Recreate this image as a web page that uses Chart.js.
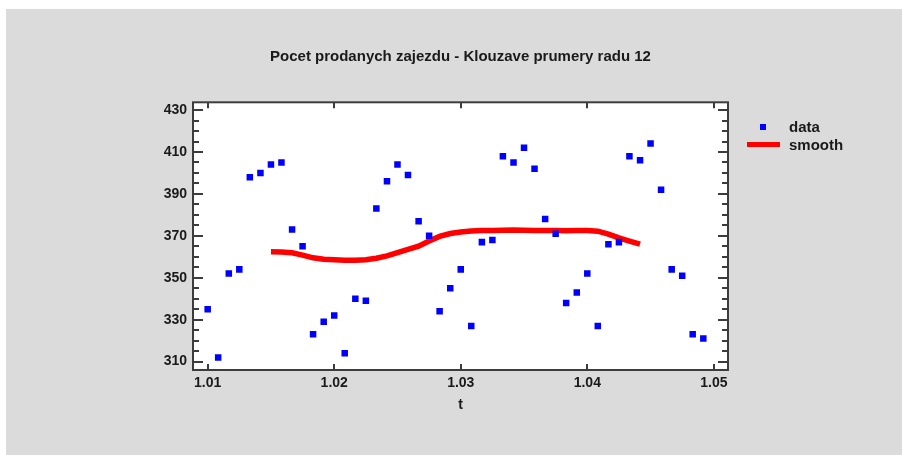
<!DOCTYPE html>
<html>
<head>
<meta charset="utf-8">
<script src="https://cdn.jsdelivr.net/npm/chart.js@4.4.0/dist/chart.umd.min.js"></script>
<style>
  html, body { margin: 0; padding: 0; background: #fff; }
  #panel { position: absolute; left: 6px; top: 9px; width: 896px; height: 446px; background: #dbdbdb; }
  canvas { display: block; }
</style>
</head>
<body>
<div id="panel"><canvas id="chart" width="896" height="446"></canvas></div>
<script>
// observations (t = year.month style index)
const tValues = [
  1.01000, 1.01083, 1.01167, 1.01250, 1.01333, 1.01417, 1.01500, 1.01583, 1.01667, 1.01750, 1.01833, 1.01917,
  1.02000, 1.02083, 1.02167, 1.02250, 1.02333, 1.02417, 1.02500, 1.02583, 1.02667, 1.02750, 1.02833, 1.02917,
  1.03000, 1.03083, 1.03167, 1.03250, 1.03333, 1.03417, 1.03500, 1.03583, 1.03667, 1.03750, 1.03833, 1.03917,
  1.04000, 1.04083, 1.04167, 1.04250, 1.04333, 1.04417, 1.04500, 1.04583, 1.04667, 1.04750, 1.04833, 1.04917
];
const dataValues = [
  335, 312, 352, 354, 398, 400, 404, 405, 373, 365, 323, 329,
  332, 314, 340, 339, 383, 396, 404, 399, 377, 370, 334, 345,
  354, 327, 367, 368, 408, 405, 412, 402, 378, 371, 338, 343,
  352, 327, 366, 367, 408, 406, 414, 392, 354, 351, 323, 321
];
// smoothed curve (moving average of order 12)
const smoothT = [
  1.01500, 1.01583, 1.01667, 1.01750, 1.01833, 1.01917,
  1.02000, 1.02083, 1.02167, 1.02250, 1.02333, 1.02417, 1.02500, 1.02583, 1.02667, 1.02750, 1.02833, 1.02917,
  1.03000, 1.03083, 1.03167, 1.03250, 1.03333, 1.03417, 1.03500, 1.03583, 1.03667, 1.03750, 1.03833, 1.03917,
  1.04000, 1.04083, 1.04167, 1.04250, 1.04333, 1.04417
];
const smoothValues = [
  362.4, 362.3, 361.9, 360.8, 359.5, 358.8,
  358.6, 358.3, 358.3, 358.6, 359.3, 360.4, 362.0, 363.5, 365.1, 367.5, 369.7, 371.1,
  371.8, 372.3, 372.5, 372.5, 372.7, 372.8, 372.7, 372.6, 372.5, 372.5, 372.4, 372.5,
  372.6, 372.2, 370.8, 369.0, 367.5, 366.0
];
const xTicks = [1.01, 1.02, 1.03, 1.04, 1.05];
const yTicks = [310, 330, 350, 370, 390, 410, 430];
const yMinorStep = 5;

const textColor = "#1a1a1a";
const axisColor = "#3c3c3c";
const fontFamily = "'Liberation Sans', Arial, sans-serif";

const frame = {
  id: "frame",
  beforeDraw(chart) {
    const { ctx, chartArea: a } = chart;
    ctx.save();
    ctx.fillStyle = "#ffffff";
    ctx.fillRect(a.left, a.top, a.right - a.left, a.bottom - a.top);
    ctx.restore();
  },
  afterDraw(chart) {
    const { ctx, chartArea: a } = chart;
    const xs = chart.scales.x;
    const ys = chart.scales.y;
    ctx.save();
    ctx.strokeStyle = axisColor;
    ctx.lineWidth = 2;
    ctx.strokeRect(a.left, a.top, a.right - a.left, a.bottom - a.top);

    ctx.beginPath();
    // y ticks, pointing inward on both sides
    for (let v = Math.ceil(ys.min / yMinorStep) * yMinorStep; v <= ys.max; v += yMinorStep) {
      const y = Math.round(ys.getPixelForValue(v));
      const len = yTicks.includes(v) ? 10 : 6;
      ctx.moveTo(a.left, y); ctx.lineTo(a.left + len, y);
      ctx.moveTo(a.right, y); ctx.lineTo(a.right - len, y);
    }
    // x ticks, top and bottom
    xTicks.forEach((v) => {
      const x = Math.round(xs.getPixelForValue(v));
      ctx.moveTo(x, a.bottom); ctx.lineTo(x, a.bottom - 6);
      ctx.moveTo(x, a.top); ctx.lineTo(x, a.top + 6);
    });
    ctx.stroke();

    // legend
    const ds = chart.data.datasets;
    ctx.font = "bold 15px " + fontFamily;
    ctx.fillStyle = textColor;
    ctx.textBaseline = "middle";
    ctx.fillText(ds[0].label, 783, 118.5);
    ctx.fillText(ds[1].label, 783, 136.5);
    ctx.fillStyle = ds[0].backgroundColor;
    ctx.fillRect(754, 115, 6, 6);
    ctx.strokeStyle = ds[1].borderColor;
    ctx.lineWidth = 5;
    ctx.beginPath();
    ctx.moveTo(741, 135.5); ctx.lineTo(774, 135.5);
    ctx.stroke();
    ctx.restore();
  }
};

new Chart(document.getElementById("chart"), {
  type: "scatter",
  data: {
    datasets: [
      {
        label: "data",
        data: tValues.map((t, i) => ({ x: t, y: dataValues[i] })),
        backgroundColor: "#0000ff",
        borderColor: "#0000ff",
        pointStyle: "rect",
        pointRadius: 4.6,
        pointBorderWidth: 0,
        showLine: false,
      },
      {
        type: "line",
        label: "smooth",
        data: smoothT.map((t, i) => ({ x: t, y: smoothValues[i] })),
        borderColor: "#ff0000",
        backgroundColor: "#ff0000",
        borderWidth: 5.5,
        pointRadius: 0,
        tension: 0,
        fill: false,
      },
    ],
  },
  options: {
    responsive: false,
    animation: false,
    events: [],
    layout: { padding: { left: 127, right: 174, top: 0, bottom: 35 } },
    plugins: {
      legend: { display: false },
      tooltip: { enabled: false },
      title: {
        display: true,
        fullSize: false,
        text: "Pocet prodanych zajezdu - Klouzave prumery radu 12",
        color: textColor,
        font: { family: fontFamily, size: 15, weight: "bold" },
        padding: { top: 38.5, bottom: 36.8 },
      },
    },
    scales: {
      x: {
        type: "linear",
        min: 1.00884,
        max: 1.05112,
        afterBuildTicks: (s) => { s.ticks = xTicks.map((v) => ({ value: v })); },
        afterFit: (s) => { s.height = 50; },
        grid: { display: false, drawTicks: false },
        border: { display: false },
        ticks: {
          color: textColor,
          padding: 5,
          maxRotation: 0,
          font: { family: fontFamily, size: 14, weight: "bold" },
          callback: (v) => v.toFixed(2),
        },
        title: {
          display: true,
          text: "t",
          color: textColor,
          font: { family: fontFamily, size: 14, weight: "bold" },
          padding: { top: 0, bottom: 6 },
        },
      },
      y: {
        min: 306.0,
        max: 433.7,
        afterBuildTicks: (s) => { s.ticks = yTicks.map((v) => ({ value: v })); },
        afterFit: (s) => { s.width = 60; },
        grid: { display: false, drawTicks: false },
        border: { display: false },
        ticks: {
          color: textColor,
          padding: 6,
          font: { family: fontFamily, size: 14, weight: "bold" },
        },
      },
    },
  },
  plugins: [frame],
});
</script>
</body>
</html>
